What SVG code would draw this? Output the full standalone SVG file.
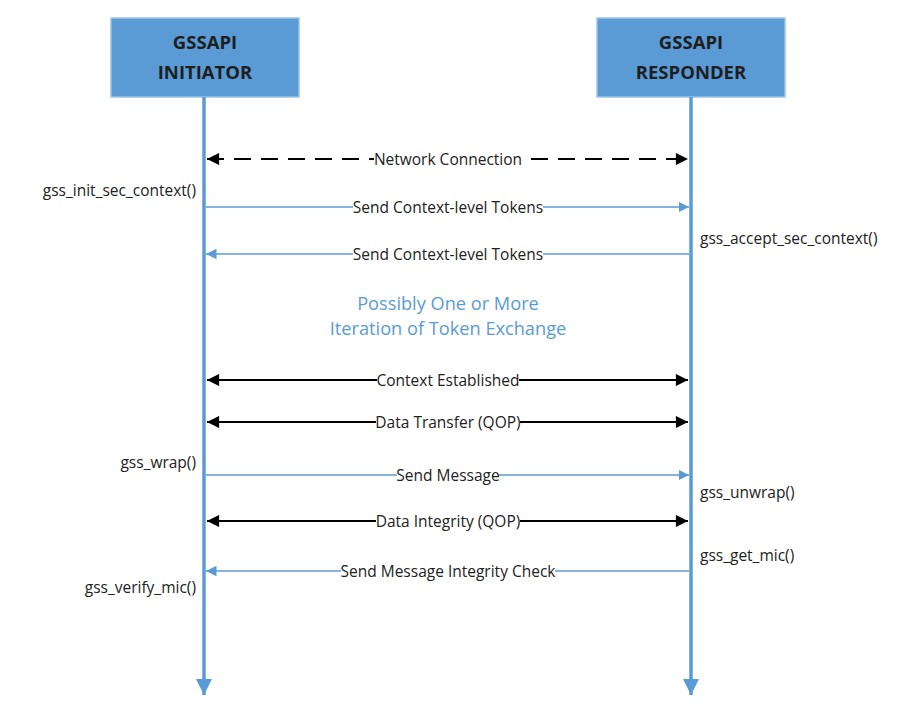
<svg xmlns="http://www.w3.org/2000/svg" width="903" height="709" viewBox="0 0 903 709">
<style>
.box{fill:#5B9BD5;stroke:#9DC3E6;stroke-width:1.5}
.title{font-family:"Open Sans","Liberation Sans",sans-serif;font-size:18.5px;font-weight:bold;fill:#1e1e1e;text-anchor:middle}
.life{stroke:#5B9BD5;stroke-width:3.5;fill:none}
.blk{stroke:#000;stroke-width:2.2;fill:none}
.blu{stroke:#5B9BD5;stroke-width:1.5;fill:none}
.lbl{font-family:"Open Sans","Liberation Sans",sans-serif;font-size:15.5px;fill:#222;text-anchor:middle}
.fn{font-family:"Open Sans","Liberation Sans",sans-serif;font-size:15.5px;fill:#222}
.note{font-family:"Open Sans","Liberation Sans",sans-serif;font-size:18.2px;fill:#5B9BD5;text-anchor:middle}
.bg{fill:#fff}
</style>
<defs>
<marker id="ab" viewBox="0 0 10 10" refX="10" refY="5" markerWidth="6" markerHeight="5.5" markerUnits="strokeWidth" orient="auto-start-reverse"><path d="M0,0 L10,5 L0,10 z" fill="#000"/></marker>
<marker id="au" viewBox="0 0 10 10" refX="10" refY="5" markerWidth="7" markerHeight="7" markerUnits="strokeWidth" orient="auto"><path d="M0,0 L10,5 L0,10 z" fill="#5B9BD5"/></marker>
<marker id="al" viewBox="0 0 10 10" refX="10" refY="5" markerWidth="4.6" markerHeight="5.2" markerUnits="strokeWidth" orient="auto"><path d="M0,0 L10,5 L0,10 z" fill="#5B9BD5"/></marker>
</defs>
<rect width="903" height="709" fill="#fff"/>
<g id="initiator">
<rect class="box" x="111" y="18" width="188" height="79"/>
<text class="title" x="205" y="49">GSSAPI</text>
<text class="title" x="205" y="79">INITIATOR</text>
</g>
<g id="responder">
<rect class="box" x="597" y="18" width="188" height="79"/>
<text class="title" x="691" y="49">GSSAPI</text>
<text class="title" x="691" y="79">RESPONDER</text>
</g>
<g id="connectors">
<line class="life" x1="204" y1="97" x2="204" y2="695" marker-end="url(#al)"/>
<line class="life" x1="691" y1="97" x2="691" y2="695" marker-end="url(#al)"/>
<line class="blk" x1="207" y1="159" x2="688" y2="159" stroke-dasharray="17,10" marker-start="url(#ab)" marker-end="url(#ab)"/>
<line class="blu" x1="206" y1="207" x2="689" y2="207" marker-end="url(#au)"/>
<line class="blu" x1="689" y1="254" x2="206" y2="254" marker-end="url(#au)"/>
<line class="blk" x1="207" y1="380" x2="688" y2="380" marker-start="url(#ab)" marker-end="url(#ab)"/>
<line class="blk" x1="207" y1="422" x2="688" y2="422" marker-start="url(#ab)" marker-end="url(#ab)"/>
<line class="blu" x1="206" y1="475" x2="689" y2="475" marker-end="url(#au)"/>
<line class="blk" x1="207" y1="521" x2="688" y2="521" marker-start="url(#ab)" marker-end="url(#ab)"/>
<line class="blu" x1="689" y1="571" x2="206" y2="571" marker-end="url(#au)"/>
</g>
<g id="labels">
<rect class="bg" x="374" y="149" width="148" height="20"/>
<text class="lbl" x="448" y="164.5">Network Connection</text>
<rect class="bg" x="353" y="197" width="190" height="20"/>
<text class="lbl" x="448" y="212.5">Send Context-level Tokens</text>
<rect class="bg" x="353" y="244" width="190" height="20"/>
<text class="lbl" x="448" y="259.5">Send Context-level Tokens</text>
<rect class="bg" x="377" y="370" width="142" height="20"/>
<text class="lbl" x="448" y="385.5">Context Established</text>
<rect class="bg" x="376" y="412" width="144" height="20"/>
<text class="lbl" x="448" y="427.5">Data Transfer (QOP)</text>
<rect class="bg" x="397" y="465" width="102" height="20"/>
<text class="lbl" x="448" y="480.5">Send Message</text>
<rect class="bg" x="376" y="511" width="144" height="20"/>
<text class="lbl" x="448" y="526.5">Data Integrity (QOP)</text>
<rect class="bg" x="341" y="561" width="214" height="20"/>
<text class="lbl" x="448" y="576.5">Send Message Integrity Check</text>
<text class="note" x="448" y="310">Possibly One or More</text>
<text class="note" x="448" y="335">Iteration of Token Exchange</text>
<text class="fn" x="196" y="195.5" text-anchor="end">gss_init_sec_context()</text>
<text class="fn" x="196" y="467.5" text-anchor="end">gss_wrap()</text>
<text class="fn" x="196" y="592.5" text-anchor="end">gss_verify_mic()</text>
<text class="fn" x="700" y="243.5">gss_accept_sec_context()</text>
<text class="fn" x="700" y="497.5">gss_unwrap()</text>
<text class="fn" x="700" y="560.5">gss_get_mic()</text>
</g>
</svg>
